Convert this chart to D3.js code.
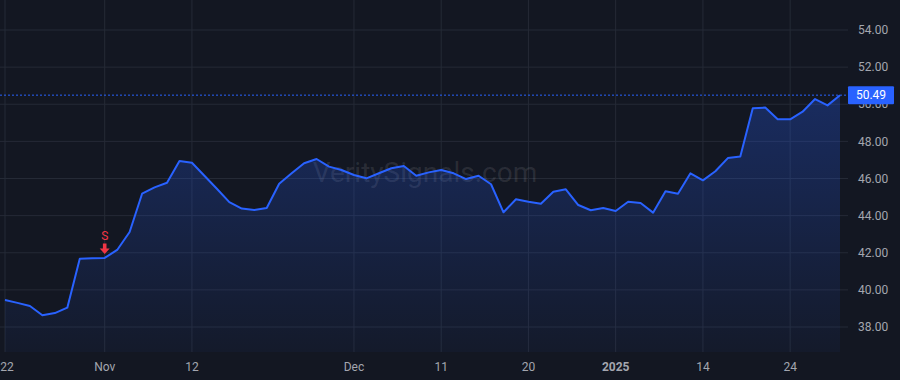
<!DOCTYPE html>
<html>
<head>
<meta charset="utf-8">
<script src="https://cdn.jsdelivr.net/npm/d3@7"></script>
<style>
  html, body { margin: 0; padding: 0; background: #131722; }
  svg { display: block; font-family: Roboto, "Noto Sans", sans-serif; }
</style>
</head>
<body>
<svg width="900" height="380"></svg>
<script>
// trading days, Oct 22 2024 .. Jan 30 2025
const dates = [
  "2024-10-22","2024-10-23","2024-10-24","2024-10-25","2024-10-28","2024-10-29","2024-10-30","2024-10-31",
  "2024-11-01","2024-11-04","2024-11-05","2024-11-06","2024-11-07","2024-11-08","2024-11-11","2024-11-12",
  "2024-11-13","2024-11-14","2024-11-15","2024-11-18","2024-11-19","2024-11-20","2024-11-21","2024-11-22",
  "2024-11-25","2024-11-26","2024-11-27","2024-11-29",
  "2024-12-02","2024-12-03","2024-12-04","2024-12-05","2024-12-06","2024-12-09","2024-12-10","2024-12-11",
  "2024-12-12","2024-12-13","2024-12-16","2024-12-17","2024-12-18","2024-12-19","2024-12-20","2024-12-23",
  "2024-12-24","2024-12-26","2024-12-27","2024-12-30","2024-12-31",
  "2025-01-02","2025-01-03","2025-01-06","2025-01-07","2025-01-08","2025-01-10","2025-01-13","2025-01-14",
  "2025-01-15","2025-01-16","2025-01-17","2025-01-21","2025-01-22","2025-01-23","2025-01-24","2025-01-27",
  "2025-01-28","2025-01-29","2025-01-30"
];
const prices = [
  39.45, 39.30, 39.13, 38.63, 38.75, 39.04, 41.68, 41.70,
  41.72, 42.15, 43.12, 45.18, 45.52, 45.77, 46.94, 46.85,
  46.15, 45.45, 44.73, 44.38, 44.30, 44.41, 45.72, 46.28,
  46.82, 47.05, 46.64, 46.46,
  46.19, 46.01, 46.28, 46.55, 46.67, 46.15, 46.33, 46.46,
  46.28, 45.97, 46.15, 45.69, 44.18, 44.88, 44.75, 44.64,
  45.29, 45.42, 44.57, 44.29, 44.41,
  44.25, 44.75, 44.68, 44.16, 45.31, 45.18, 46.28, 45.90,
  46.39, 47.10, 47.19, 49.78, 49.82, 49.19, 49.19, 49.60,
  50.28, 49.94, 50.49
];
const lastPrice = 50.49;
const tickDates = ["2024-10-22","2024-11-01","2024-11-12","2024-12-02","2024-12-11","2024-12-20","2025-01-02","2025-01-14","2025-01-24"];
const tickLabels = ["22","Nov","12","Dec","11","20","2025","14","24"];
const yTicks = [38, 40, 42, 44, 46, 48, 50, 52, 54];
const signals = [{ date: "2024-11-01", label: "S" }];

const W = 900, H = 380;
const plotRight = 848, plotBottom = 352;

const svg = d3.select("svg");

const x = d3.scalePoint().domain(dates).range([5, 840]);
const y = d3.scaleLinear().domain([38, 54]).range([327, 30]);

const defs = svg.append("defs");
const grad = defs.append("linearGradient")
  .attr("id", "areaGrad").attr("x1", 0).attr("y1", 0).attr("x2", 0).attr("y2", 1);
grad.append("stop").attr("offset", "0%").attr("stop-color", "#2962ff").attr("stop-opacity", 0.28);
grad.append("stop").attr("offset", "100%").attr("stop-color", "#2962ff").attr("stop-opacity", 0.04);

svg.append("rect").attr("width", W).attr("height", H).attr("fill", "#131722");

// grid
const grid = svg.append("g");
grid.selectAll("line.h")
  .data(yTicks)
  .join("line")
    .attr("class", "h")
    .attr("x1", 0).attr("x2", plotRight)
    .attr("y1", d => y(d)).attr("y2", d => y(d))
    .attr("stroke", "#252a36").attr("stroke-width", 1);
grid.selectAll("line.v")
  .data(tickDates)
  .join("line")
    .attr("class", "v")
    .attr("x1", d => x(d)).attr("x2", d => x(d))
    .attr("y1", 0).attr("y2", plotBottom)
    .attr("stroke", "#252a36").attr("stroke-width", 1);

const series = dates.map((d, i) => ({ date: d, value: prices[i] }));

// watermark
svg.append("text")
  .attr("x", 425).attr("y", 182)
  .attr("text-anchor", "middle")
  .attr("font-size", 28)
  .attr("fill", "#ffffff").attr("fill-opacity", 0.1)
  .text("VeritySignals.com");

const area = d3.area()
  .x(d => x(d.date))
  .y0(plotBottom)
  .y1(d => y(d.value));
svg.append("path")
  .datum(series)
  .attr("fill", "url(#areaGrad)")
  .attr("d", area);

const line = d3.line()
  .x(d => x(d.date))
  .y(d => y(d.value));
svg.append("path")
  .datum(series)
  .attr("fill", "none")
  .attr("stroke", "#2962ff")
  .attr("stroke-width", 2)
  .attr("stroke-linejoin", "round")
  .attr("d", line);

// last price line
svg.append("line")
  .attr("x1", 0).attr("x2", plotRight)
  .attr("y1", y(lastPrice)).attr("y2", y(lastPrice))
  .attr("stroke", "#2962ff").attr("stroke-width", 1)
  .attr("stroke-dasharray", "2,2");

// signal markers
const sig = svg.append("g")
  .selectAll("g")
  .data(signals)
  .join("g")
    .attr("transform", d => {
      const p = prices[dates.indexOf(d.date)];
      return `translate(${x(d.date)},${y(p)})`;
    });
sig.append("text")
  .attr("y", -18)
  .attr("text-anchor", "middle")
  .attr("font-size", 12)
  .attr("fill", "#f23645")
  .text(d => d.label);
sig.append("path")
  .attr("d", "M-1.8,-14.5 L1.8,-14.5 L1.8,-9.5 L5,-9.5 L0,-4 L-5,-9.5 L-1.8,-9.5 Z")
  .attr("fill", "#f23645");

// y axis labels
svg.append("g")
  .selectAll("text")
  .data(yTicks)
  .join("text")
    .attr("x", 858)
    .attr("y", d => y(d))
    .attr("dy", "0.35em")
    .attr("font-size", 12)
    .attr("fill", "#a3a6af")
    .text(d => d.toFixed(2));

// last price tag
const tagY = y(lastPrice);
svg.append("rect")
  .attr("x", 848).attr("y", tagY - 9)
  .attr("width", 46).attr("height", 18)
  .attr("rx", 1)
  .attr("fill", "#2962ff");
svg.append("text")
  .attr("x", 871).attr("y", tagY)
  .attr("dy", "0.35em")
  .attr("text-anchor", "middle")
  .attr("font-size", 12)
  .attr("fill", "#ffffff")
  .text(lastPrice.toFixed(2));

// x axis labels (keep the first one inside the frame)
svg.append("g")
  .selectAll("text")
  .data(tickDates)
  .join("text")
    .attr("x", d => Math.max(x(d), 7))
    .attr("y", 367)
    .attr("dy", "0.35em")
    .attr("text-anchor", "middle")
    .attr("font-size", 12)
    .attr("font-weight", (d, i) => tickLabels[i] === "2025" ? "bold" : "normal")
    .attr("fill", "#a3a6af")
    .text((d, i) => tickLabels[i]);
</script>
</body>
</html>
